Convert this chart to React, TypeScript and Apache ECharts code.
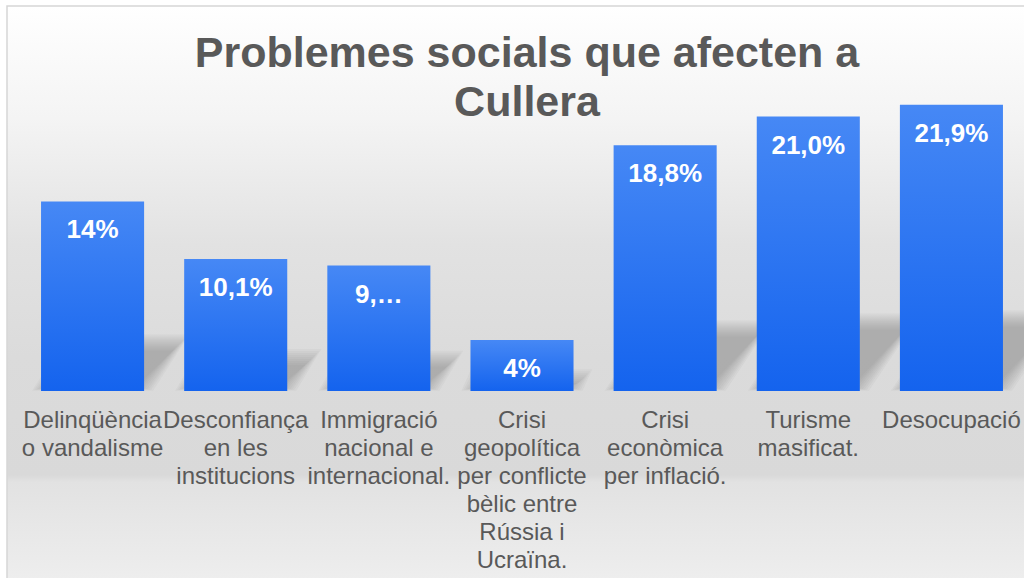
import React, { useEffect, useRef } from "react";
import * as echarts from "echarts";

const titleText = "Problemes socials que afecten a\nCullera";
const categories = [
  "Delinqüència\no vandalisme",
  "Desconfiança\nen les\ninstitucions",
  "Immigració\nnacional e\ninternacional.",
  "Crisi\ngeopolítica\nper conflicte\nbèlic entre\nRússia i\nUcraïna.",
  "Crisi\neconòmica\nper inflació.",
  "Turisme\nmasificat.",
  "Desocupació",
];
const values = [14.5, 10.1, 9.6, 3.9, 18.8, 21.0, 21.9];
const valueLabels = ["14%", "10,1%", "9,…", "4%", "18,8%", "21,0%", "21,9%"];

const FONT = "'Liberation Sans', Arial, sans-serif";

export default function App() {
  const ref = useRef<HTMLDivElement>(null);
  useEffect(() => {
    if (!ref.current) return;
    const chart = echarts.init(ref.current, null, { renderer: "svg" });
    const barFrac = 0.72;
    chart.setOption({
      animation: false,
      title: {
        text: titleText,
        left: 522,
        top: 22,
        textAlign: "center",
        textStyle: {
          fontFamily: FONT,
          fontWeight: "bold",
          fontSize: 43,
          lineHeight: 49,
          color: "#595959",
        },
      },
      graphic: [
        {
          type: "rect",
          z: -10,
          shape: { x: 7, y: 6, width: 1100, height: 700 },
          style: {
            fill: new echarts.graphic.LinearGradient(0, 0, 0, 1, [
              { offset: 0, color: "#ffffff" },
              { offset: 0.16, color: "#f4f4f4" },
              { offset: 0.34, color: "#e2e2e2" },
              { offset: 0.5, color: "#dbdbdb" },
              { offset: 0.67, color: "#d9d9d9" },
              { offset: 0.68, color: "#e2e2e2" },
              { offset: 0.8, color: "#ececec" },
              { offset: 0.92, color: "#f8f8f8" },
              { offset: 1, color: "#ffffff" },
            ]),
            stroke: "#d6d6d6",
            lineWidth: 1.5,
          },
        },
      ],
      grid: { left: 21, right: 1, top: 64.25, bottom: 187, containLabel: false },
      xAxis: {
        type: "category",
        data: categories,
        axisLine: { show: false },
        axisTick: { show: false },
        axisLabel: {
          interval: 0,
          color: "#595959",
          fontFamily: FONT,
          fontSize: 24,
          lineHeight: 28,
          margin: 14,
        },
      },
      yAxis: {
        type: "value",
        min: 0,
        max: 25,
        show: false,
        splitLine: { show: false },
      },
      series: [
        {
          type: "custom",
          z: 1,
          silent: true,
          data: values.map((v, i) => [i, v]),
          encode: { x: 0, y: 1 },
          renderItem: (params: any, api: any) => {
            const idx = api.value(0);
            const v = api.value(1);
            const base = api.coord([idx, 0]);
            const top = api.coord([idx, v]);
            const band = api.size([1, 0])[0];
            const w = band * barFrac;
            const h = base[1] - top[1];
            const sh = h * 0.25;
            const k = 0.76;
            const l = base[0] - w / 2;
            const r = base[0] + w / 2;
            const by = base[1] - 3;
            const children: any[] = [];
            for (let e = 9; e >= -7; e -= 2) {
              if (-e * 2 > sh * 0.8) continue;
              children.push({
                type: "polygon",
                shape: {
                  points: [
                    [l - e, by + e * 0.3],
                    [r + e, by + e * 0.3],
                    [r + k * sh + e, base[1] - sh - e],
                    [l + k * sh - e, base[1] - sh - e],
                  ],
                },
                style: { fill: "rgba(105,105,105,0.055)" },
              });
            }
            return { type: "group", children };
          },
        },
        {
          type: "bar",
          z: 3,
          data: values,
          barWidth: barFrac * 100 + "%",
          itemStyle: {
            color: new echarts.graphic.LinearGradient(0, 0, 0, 1, [
              { offset: 0, color: "#4688f5" },
              { offset: 1, color: "#1463ee" },
            ]),
          },
          label: {
            show: true,
            position: "insideTop",
            distance: 15,
            formatter: (p: any) => valueLabels[p.dataIndex],
            color: "#ffffff",
            fontFamily: FONT,
            fontWeight: "bold",
            fontSize: 26,
          },
        },
      ],
    });
    return () => chart.dispose();
  }, []);
  return (
    <div
      ref={ref}
      style={{ position: "absolute", left: 0, top: 0, width: 1024, height: 578 }}
    />
  );
}
